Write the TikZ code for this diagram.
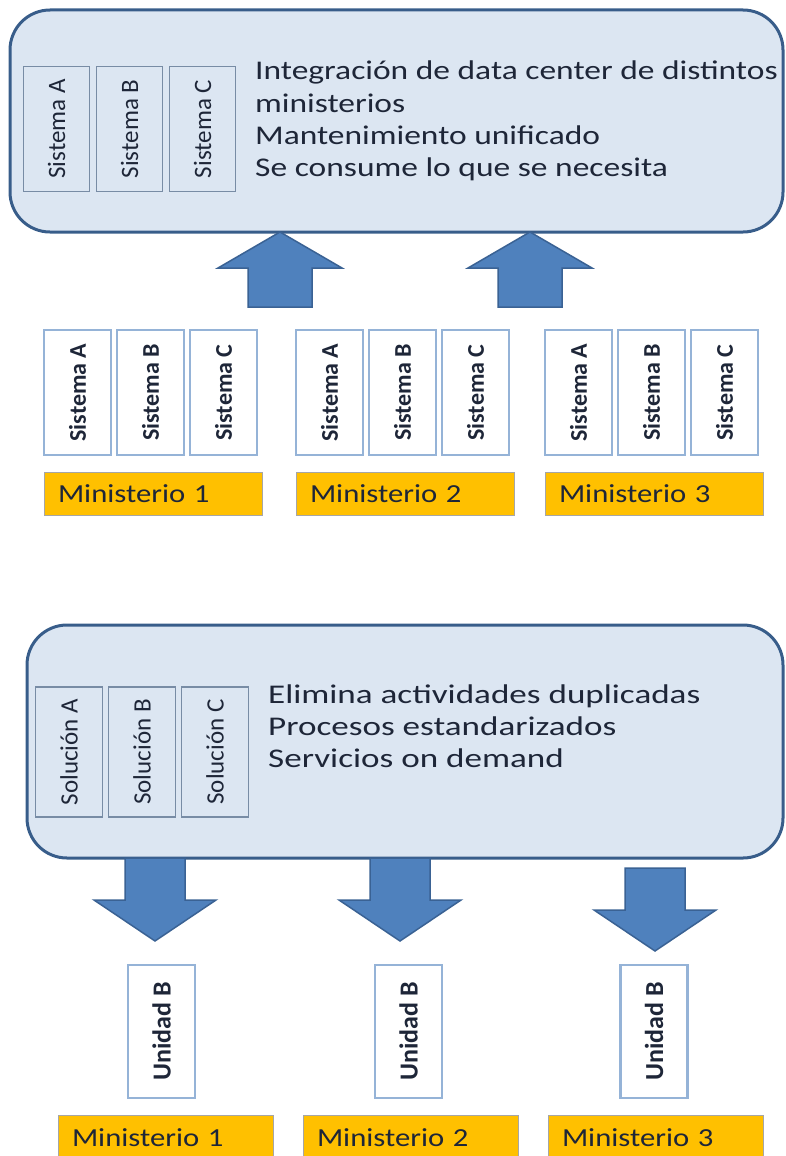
\documentclass[tikz,border=0pt]{standalone}
\usepackage{fontspec}
\setmainfont{Carlito}
\newfontfamily\topfont[FakeStretch=1.24]{Carlito}
\newfontfamily\botfont[FakeStretch=1.30]{Carlito}
\newfontfamily\minfont[FakeStretch=1.18]{Carlito}
\usetikzlibrary{positioning}

\definecolor{panelfill}{RGB}{220,230,242}
\definecolor{paneledge}{RGB}{56,93,138}
\definecolor{arrowfill}{RGB}{79,129,189}
\definecolor{arrowedge}{RGB}{58,98,148}
\definecolor{boxedge}{RGB}{149,179,215}
\definecolor{inneredge}{RGB}{120,140,165}
\definecolor{gold}{RGB}{255,192,0}
\definecolor{ink}{RGB}{30,38,56}

\tikzset{
    panel/.style={draw=paneledge, line width=3pt, fill=panelfill, rounded corners=40pt, inner sep=0pt},
    innerbox/.style={draw=inneredge, line width=1.5pt, fill=panelfill, inner sep=0pt, rotate=90, text=ink, font=\fontsize{25}{28}\selectfont},
    sysbox/.style={draw=boxedge, line width=2.5pt, fill=white, inner sep=0pt, rotate=90, text=ink, font=\fontsize{24}{28}\selectfont\bfseries},
    minbox/.style={draw=gray!70, line width=1pt, fill=gold, inner xsep=14pt, inner ysep=0pt, align=left, minimum height=43pt, text=ink, font=\minfont\fontsize{26}{30}\selectfont},
    lineitem/.style={anchor=base west, inner sep=0pt, text=ink},
    bigarrow/.style={draw=arrowedge, line width=1.5pt, fill=arrowfill},
    uparr/.pic={\draw[bigarrow] (-32,0) -- (-32,-39) -- (-62,-39) -- (0,-75) -- (62,-39) -- (32,-39) -- (32,0) -- cycle;},
    downarr/.pic={\draw[bigarrow] (-30,0) -- (-30,42) -- (-61,42) -- (0,83) -- (61,42) -- (30,42) -- (30,0) -- cycle;},
}

\begin{document}
\begin{tikzpicture}[x=1pt, y=-1pt]
    \clip (0,0) rectangle (785,1156);

    \node[panel, minimum width=773pt, minimum height=222pt] (toppanel) at (396.5,121) {};
    \foreach \i/\s in {0/A, 1/B, 2/C} {
        \node[innerbox, minimum width=125pt, minimum height=66pt] (top\s) at (56.5+73*\i, 129) {Sistema \s};
    }
    \foreach \i/\t in {1/Integración de data center de distintos, 2/ministerios, 3/Mantenimiento unificado, 4/Se consume lo que se necesita} {
        \node[lineitem, font=\topfont\fontsize{27}{30}\selectfont] (topline\i) at (255, 48+32*\i) {\t};
    }

    \pic at (280,307) {uparr};
    \pic at (530,307) {uparr};

    \foreach \g/\gx in {1/44, 2/296, 3/545} {
        \foreach \i/\s in {0/A, 1/B, 2/C} {
            \node[sysbox, minimum width=125pt, minimum height=67pt] (sys\g\s) at (\gx+33.5+73*\i, 392.5) {Sistema \s};
        }
        \node[minbox, text width=190pt] (mintop\g) at (\gx+109, 493.5) {Ministerio \g};
    }

    \node[panel, minimum width=756pt, minimum height=233pt] (botpanel) at (405,741.5) {};
    \foreach \i/\s in {0/A, 1/B, 2/C} {
        \node[innerbox, minimum width=130pt, minimum height=67pt] (sol\s) at (69+73*\i, 752) {Solución \s};
    }
    \foreach \i/\t in {1/Elimina actividades duplicadas, 2/Procesos estandarizados, 3/Servicios on demand} {
        \node[lineitem, font=\botfont\fontsize{27}{30}\selectfont] (botline\i) at (268, 671+32*\i) {\t};
    }

    \pic at (155,858) {downarr};
    \pic at (400,858) {downarr};
    \pic at (655,868) {downarr};

    \foreach \g/\ux/\mx in {1/161.5/58, 2/408.5/303, 3/654/548} {
        \node[sysbox, minimum width=133pt, minimum height=67pt, font=\fontsize{26}{28}\selectfont\bfseries] (unidad\g) at (\ux, 1031.5) {Unidad B};
        \node[minbox, text width=187pt, minimum height=45pt] (minbot\g) at (\mx+107.5, 1137.5) {Ministerio \g};
    }
\end{tikzpicture}
\end{document}
